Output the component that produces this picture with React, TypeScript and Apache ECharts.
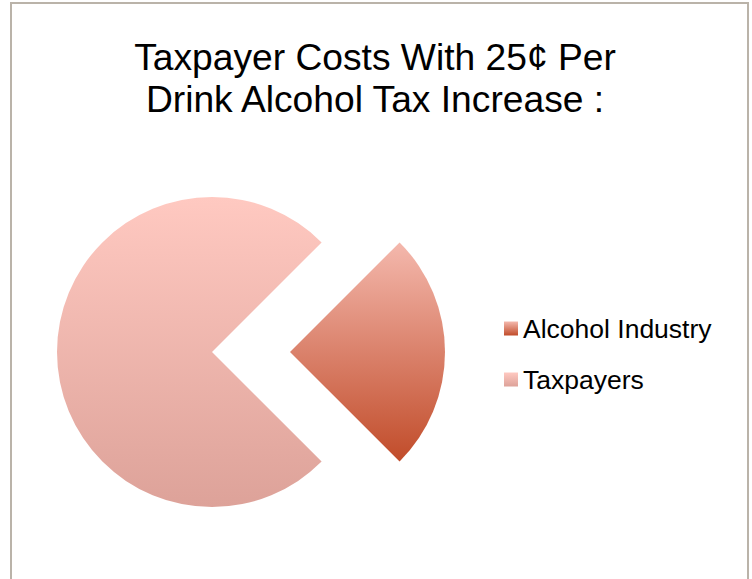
import React, { useEffect, useRef } from "react";
import * as echarts from "echarts";

const titleLines = ["Taxpayer Costs With 25¢ Per", "Drink Alcohol Tax Increase :"];
const categories = ["Alcohol Industry", "Taxpayers"];
const values = [25, 75];

const gradients = [
  ["#f4b8ad", "#c14c2a"],
  ["#ffc9c1", "#dda299"],
];

const FONT = "'Liberation Sans', Arial, sans-serif";

export default function App() {
  const ref = useRef<HTMLDivElement>(null);
  useEffect(() => {
    if (!ref.current) return;
    const chart = echarts.init(ref.current, undefined, { renderer: "svg" });
    chart.setOption({
      animation: false,
      backgroundColor: "#ffffff",
      title: {
        text: titleLines.join("\n"),
        left: 370,
        top: 31,
        textAlign: "center",
        textStyle: {
          fontFamily: FONT,
          fontSize: 37.2,
          fontWeight: "normal",
          color: "#000000",
          lineHeight: 42,
        },
      },
      graphic: [
        {
          type: "rect",
          shape: { x: 11, y: 3, width: 737, height: 620 },
          style: { fill: "none", stroke: "#bab3a9", lineWidth: 2 },
          silent: true,
        },
      ],
      legend: {
        orient: "vertical",
        left: 499,
        top: 310,
        itemWidth: 14,
        itemHeight: 14,
        itemGap: 24,
        icon: "rect",
        selectedMode: false,
        textStyle: {
          fontFamily: FONT,
          fontSize: 26.5,
          color: "#000000",
          lineHeight: 26,
        },
        data: categories,
      },
      series: [
        {
          type: "pie",
          center: [212, 352],
          radius: 155,
          startAngle: 45,
          clockwise: true,
          selectedMode: "single",
          selectedOffset: 78,
          label: { show: false },
          labelLine: { show: false },
          emphasis: { disabled: true },
          itemStyle: { borderWidth: 0 },
          data: categories.map((name, i) => ({
            name,
            value: values[i],
            selected: i === 0,
            itemStyle: {
              color: new echarts.graphic.LinearGradient(0, 0, 0, 1, [
                { offset: 0, color: gradients[i][0] },
                { offset: 1, color: gradients[i][1] },
              ]),
            },
          })),
        },
      ],
    });
    return () => chart.dispose();
  }, []);
  return (
    <div
      ref={ref}
      style={{ position: "fixed", left: 0, top: 0, width: 752, height: 579 }}
    />
  );
}
